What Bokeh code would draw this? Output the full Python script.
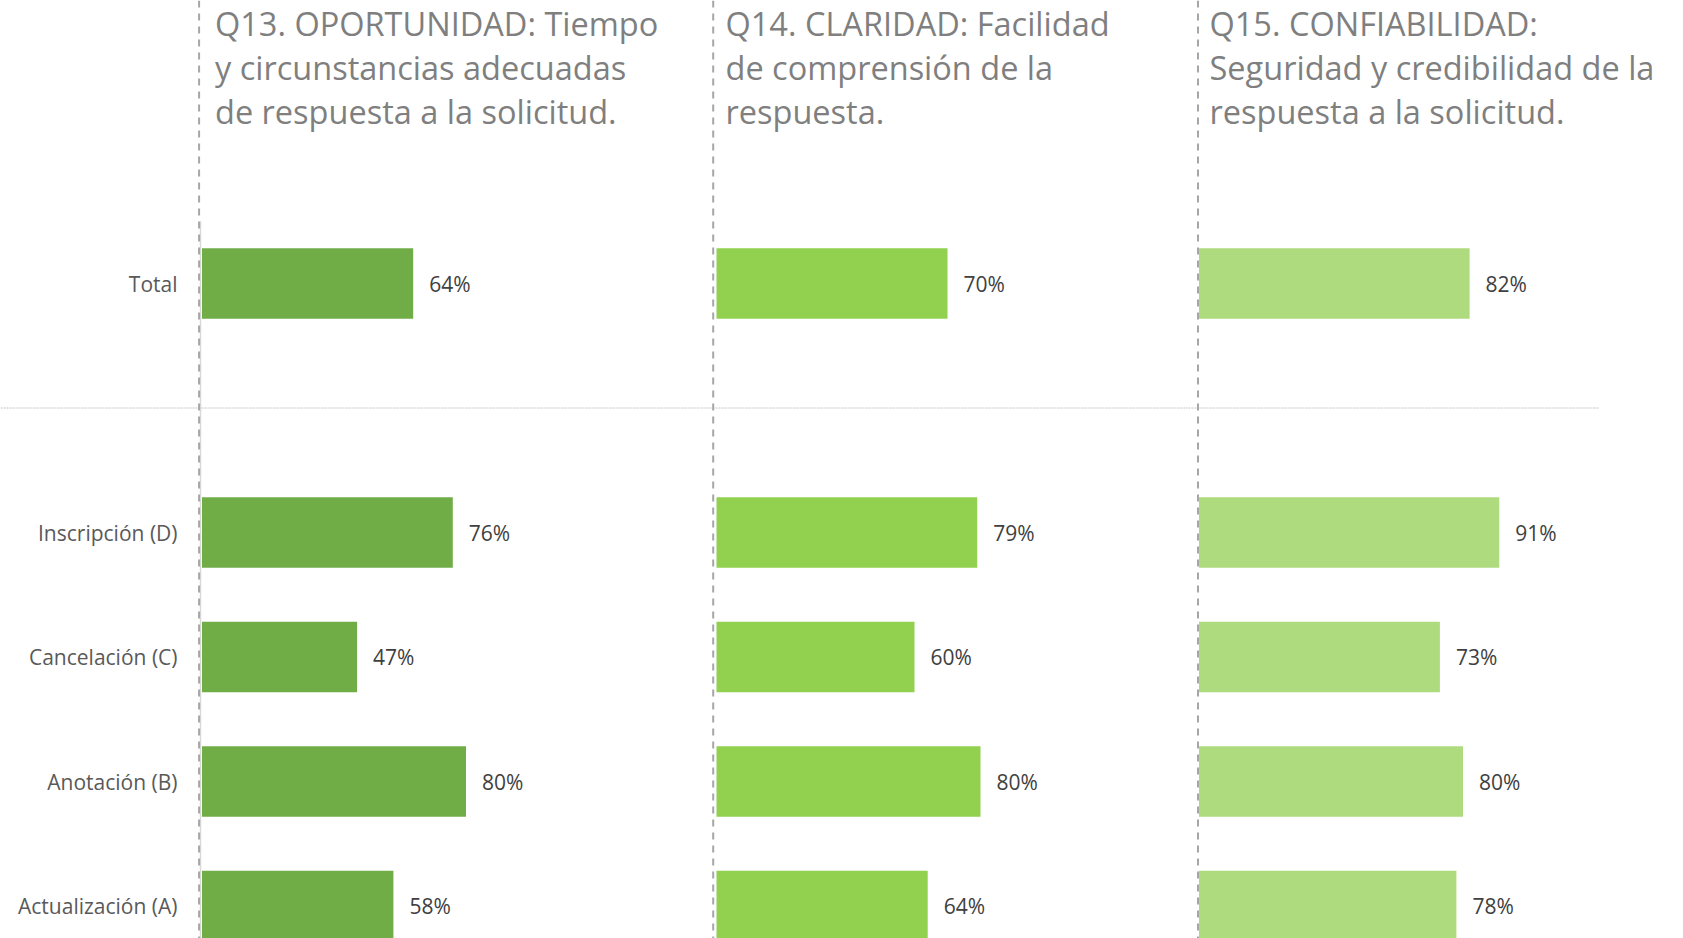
from bokeh.plotting import figure
from bokeh.layouts import row
from bokeh.models import Range1d, Span, ColumnDataSource
from bokeh.core.properties import value
from bokeh.embed import file_html
from bokeh.resources import INLINE

# ---------------- data ----------------
categories = ["Total", "Inscripción (D)", "Cancelación (C)", "Anotación (B)", "Actualización (A)"]
q13 = [64, 76, 47, 80, 58]
q14 = [70, 79, 60, 80, 64]
q15 = [82, 91, 73, 80, 78]
titles = [
    ["Q13. OPORTUNIDAD: Tiempo", "y circunstancias adecuadas", "de respuesta a la solicitud."],
    ["Q14. CLARIDAD: Facilidad", "de comprensión de la", "respuesta."],
    ["Q15. CONFIABILIDAD:", "Seguridad y credibilidad de la", "respuesta a la solicitud."],
]
colors = ["#70AD47", "#92D050", "#AEDB7E"]

# slot positions: Total on top, one blank slot, then the four request types
ypos = [len(categories)] + list(range(len(categories) - 2, -1, -1))

# ---------------- layout constants (page pixels) ----------------
FONT = value("Open Sans")
H = 938
ROW = 124.5          # px per category slot
Y0_PX = 905.5        # page y of slot 0 centre
PX_PER_PCT = 3.3

def fy(py):
    return (Y0_PX - py) / ROW

# (frame left in page px, width, page x of the zero line, dashed line page x, title page x)
panels = [
    (0, 700, 201.5, 198.6, 214.5),
    (700, 485, 716.0, 712.7, 725.0),
    (1185, 498, 1198.5, 1197.5, 1209.0),
]
series = [q13, q14, q15]
title_baselines = [23, 66.5, 110.5]

figs = []
for k, ((left, width, zero, dash_x, title_x), vals, col, tlines) in enumerate(
        zip(panels, series, colors, titles)):
    xs = (left - zero) / PX_PER_PCT
    xe = xs + width / PX_PER_PCT
    p = figure(width=width, height=H, output_backend="svg", toolbar_location=None,
               x_range=Range1d(xs, xe), y_range=Range1d(fy(H), fy(0)),
               x_axis_location=None, y_axis_location=None, min_border=0,
               outline_line_color=None, background_fill_color="white",
               border_fill_color="white")
    p.grid.visible = False

    # horizontal dotted separator between Total and the detail rows
    sep_end = xe if k < 2 else (1598 - zero) / PX_PER_PCT
    p.segment(x0=[xs], y0=[4], x1=[sep_end], y1=[4], line_color="#C4C4C4",
              line_width=1, line_dash="2 1")

    # dashed panel divider
    p.add_layout(Span(location=(dash_x - zero) / PX_PER_PCT, dimension="height",
                      line_color="#A6A6A6", line_width=2, line_dash="7 6"))

    if k == 0:
        # light axis line
        p.segment(x0=[(200 - zero) / PX_PER_PCT], y0=[-1], x1=[(200 - zero) / PX_PER_PCT],
                  y1=[5.5], line_color="#D9D9D9", line_width=1.5)

    src = ColumnDataSource(dict(y=ypos, v=vals, cat=categories,
                                lab=[f"{v}%" for v in vals]))
    p.hbar(y="y", left=0, right="v", height=0.565, source=src,
           fill_color=col, line_color=None)
    p.text(x="v", y="y", text="lab", source=src, x_offset=16,
           text_font=FONT, text_font_size="21px", text_color="#404040",
           text_align="left", text_baseline="middle")
    if k == 0:
        p.text(x=0, y="y", text="cat", source=src, x_offset=-24.5,
               text_font=FONT, text_font_size="21px", text_color="#595959",
               text_align="right", text_baseline="middle")

    tx = (title_x - zero) / PX_PER_PCT
    p.text(x=[tx] * len(tlines), y=[fy(b) for b in title_baselines[:len(tlines)]],
           text=tlines, text_font=FONT, text_font_size="32.5px",
           text_color="#7F7F7F", text_align="left", text_baseline="alphabetic")
    figs.append(p)

layout = row(*figs, spacing=0)
open("out.html", "w").write(file_html(layout, INLINE))
